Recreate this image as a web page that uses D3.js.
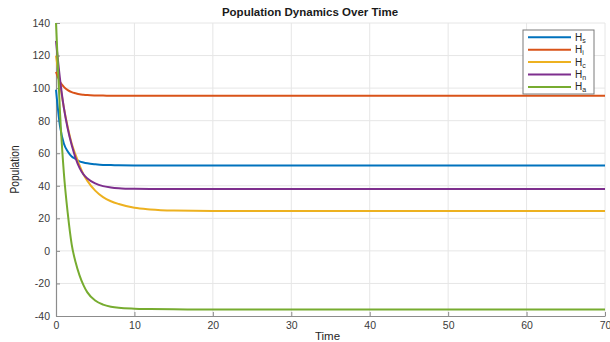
<!DOCTYPE html>
<html>
<head>
<meta charset="utf-8">
<script src="https://cdn.jsdelivr.net/npm/d3@7"></script>
<style>
  body { margin: 0; background: #fff; }
  svg { display: block; font-family: "Liberation Sans", Arial, sans-serif; }
  .tick text { fill: #3a3a3a; font-size: 10.5px; }
</style>
</head>
<body>
<svg id="chart" width="610" height="342"></svg>
<script>
// sample times
const times = [0, 0.5, 1, 1.5, 2, 2.5, 3, 3.5, 4, 5, 6, 7, 8, 10, 12, 15, 20, 30, 40, 50, 60, 70];

const Hs = [99, 77, 66, 61, 58, 56.5, 55, 54.3, 53.8, 53.2, 52.8, 52.7, 52.6, 52.5, 52.5, 52.5, 52.5, 52.5, 52.5, 52.5, 52.5, 52.5];
const Hi = [110, 104, 100.8, 98.8, 97.5, 96.8, 96.2, 95.9, 95.7, 95.5, 95.4, 95.35, 95.3, 95.3, 95.3, 95.3, 95.3, 95.3, 95.3, 95.3, 95.3, 95.3];
const Hc = [120, 103, 88, 76, 66, 59, 52.5, 47, 43, 37, 33, 30.5, 28.8, 26.5, 25.5, 24.8, 24.5, 24.5, 24.5, 24.5, 24.5, 24.5];
const Hn = [129, 106, 88, 75, 65, 57, 51, 47, 44.5, 41.5, 39.8, 39, 38.5, 38.1, 38, 38, 38, 38, 38, 38, 38, 38];
const Ha = [140, 86, 48, 23, 4, -7, -15, -21, -25.5, -30.5, -33, -34.3, -35, -35.5, -35.7, -35.9, -36, -36, -36, -36, -36, -36];

const seriesNames = ['s', 'i', 'c', 'n', 'a'];
const seriesValues = [Hs, Hi, Hc, Hn, Ha];
const seriesColors = ['#0072BD', '#D95319', '#EDB120', '#7E2F8E', '#77AC30'];

const xTicks = [0, 10, 20, 30, 40, 50, 60, 70];
const yTicks = [-40, -20, 0, 20, 40, 60, 80, 100, 120, 140];

const margin = { left: 56, right: 5, top: 23, bottom: 26 };
const W = 610, H = 342;
const svg = d3.select('#chart');

const x = d3.scaleLinear().domain([0, 70]).range([margin.left, W - margin.right]);
const y = d3.scaleLinear().domain([-40, 140]).range([H - margin.bottom, margin.top]);

// grid
const grid = svg.append('g');
grid.selectAll('.gx').data(xTicks.slice(1)).join('line')
    .attr('x1', d => x(d)).attr('x2', d => x(d))
    .attr('y1', y(-40)).attr('y2', y(140))
    .attr('stroke', '#e6e6e6').attr('stroke-width', 1);
grid.selectAll('.gy').data(yTicks.slice(1)).join('line')
    .attr('x1', x(0)).attr('x2', x(70))
    .attr('y1', d => y(d)).attr('y2', d => y(d))
    .attr('stroke', '#e6e6e6').attr('stroke-width', 1);

// axes, ticks point inward like MATLAB; plain hyphen for negatives
const fmt = d => String(d);
const xAxis = svg.append('g')
    .attr('transform', 'translate(0,' + y(-40) + ')')
    .call(d3.axisBottom(x).tickValues(xTicks).tickFormat(fmt).tickSize(-4).tickPadding(6).tickSizeOuter(0));
const yAxis = svg.append('g')
    .attr('transform', 'translate(' + x(0) + ',0)')
    .call(d3.axisLeft(y).tickValues(yTicks).tickFormat(fmt).tickSize(-4).tickPadding(6).tickSizeOuter(0));
[xAxis, yAxis].forEach(function (a) {
    a.select('.domain').attr('stroke', '#8c8c8c').attr('stroke-width', 1.2);
    a.selectAll('.tick line').attr('stroke', '#8c8c8c');
});

// lines
const line = d3.line()
    .x((d, i) => x(times[i]))
    .y(d => y(d))
    .curve(d3.curveMonotoneX);

svg.append('g').selectAll('path').data(seriesValues).join('path')
    .attr('d', d => line(d))
    .attr('fill', 'none')
    .attr('stroke', (d, i) => seriesColors[i])
    .attr('stroke-width', 2);

// title and labels
svg.append('text')
    .attr('x', 310).attr('y', 16)
    .attr('text-anchor', 'middle')
    .attr('font-size', 11.5).attr('font-weight', 'bold').attr('fill', '#1a1a1a')
    .text('Population Dynamics Over Time');

svg.append('text')
    .attr('x', x(35) - 3).attr('y', 340)
    .attr('text-anchor', 'middle')
    .attr('font-size', 11.5).attr('fill', '#262626')
    .text('Time');

svg.append('text')
    .attr('transform', 'translate(19,' + y(50) + ') rotate(-90) scale(0.85,1)')
    .attr('text-anchor', 'middle')
    .attr('font-size', 12).attr('fill', '#262626')
    .text('Population');

// legend
const lg = svg.append('g').attr('transform', 'translate(523,30)');
lg.append('rect')
    .attr('width', 71).attr('height', 64)
    .attr('fill', '#fff').attr('stroke', '#7a7a7a').attr('stroke-width', 1);
const items = lg.selectAll('.item').data(seriesNames).join('g')
    .attr('transform', (d, i) => 'translate(0,' + (7.3 + i * 12.4) + ')');
items.append('line')
    .attr('x1', 5).attr('x2', 48)
    .attr('stroke', (d, i) => seriesColors[i]).attr('stroke-width', 2);
const lt = items.append('text')
    .attr('x', 52).attr('y', 3.5)
    .attr('font-size', 10).attr('fill', '#262626');
lt.append('tspan').text('H');
lt.append('tspan').attr('dy', 2).attr('font-size', 7).text(d => d);
</script>
</body>
</html>
